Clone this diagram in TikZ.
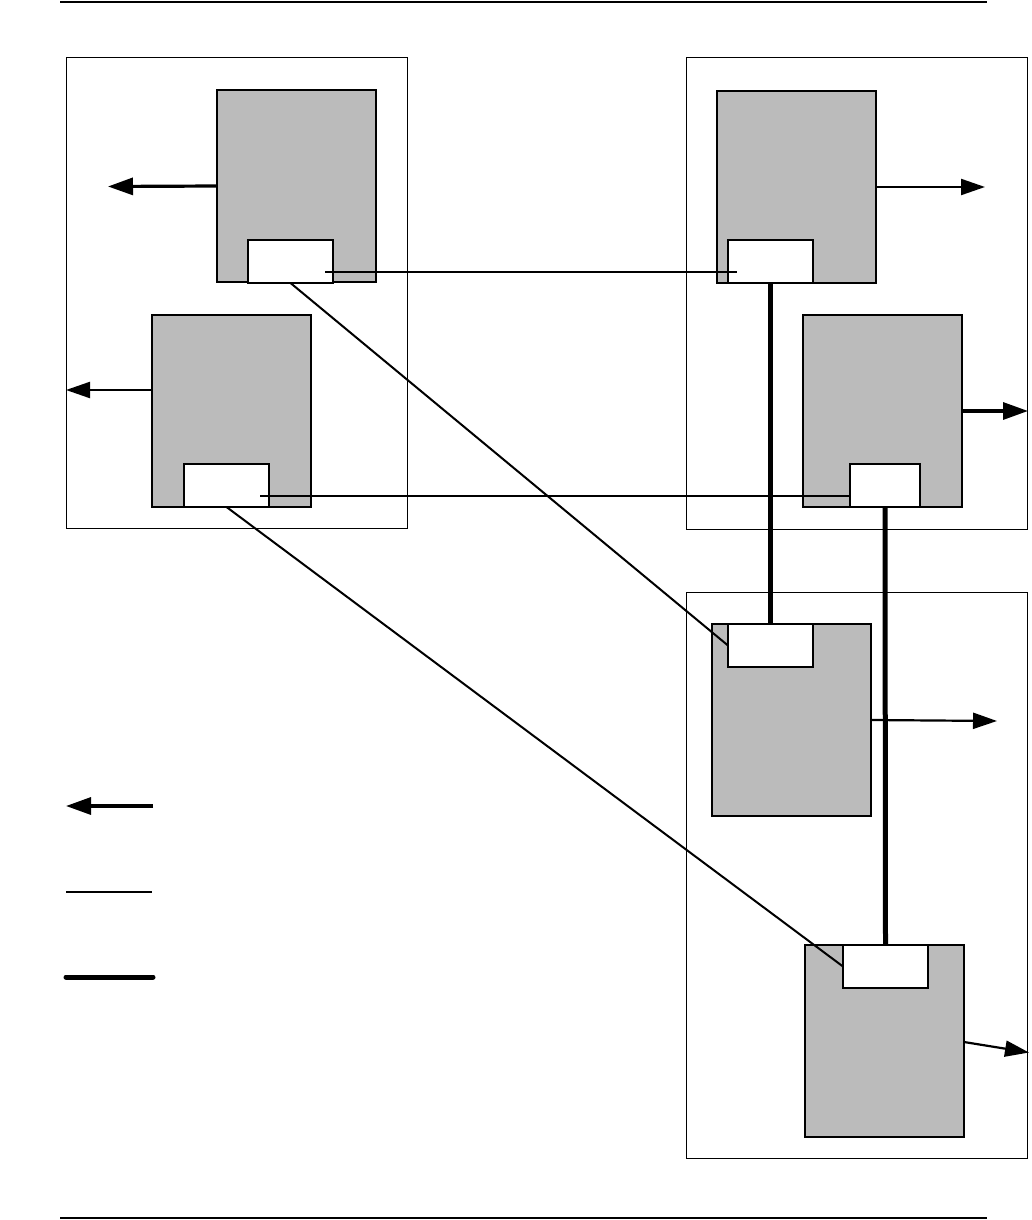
\documentclass[tikz,border=0pt]{standalone}
\usetikzlibrary{arrows.meta,calc}
\definecolor{boxgray}{HTML}{BBBBBB}
\tikzset{
  outerbox/.style={draw=black,line width=1.2pt,fill=none},
  gbox/.style={draw=black,line width=1.4pt,fill=boxgray,anchor=north west,inner sep=0pt,outer sep=0pt,minimum width=159pt,minimum height=192pt},
  wbox/.style={draw=black,line width=1.4pt,fill=white,anchor=north west,inner sep=0pt,outer sep=0pt,minimum width=85pt,minimum height=43pt},
  thinlink/.style={draw=black,line width=2pt},
  thicklink/.style={draw=black,line width=5pt},
  bigarrow/.style={draw=black,line width=3.2pt,-{Triangle[length=25pt,width=17pt]}},
  smallarrow/.style={draw=black,line width=2.2pt,-{Triangle[length=24pt,width=16pt]}},
  rule/.style={draw=black,line width=2.2pt}
}
\begin{document}
\begin{tikzpicture}[x=1pt,y=-1pt]
\useasboundingbox (0,0) rectangle (1031,1220);
% page rules
\coordinate (t1) at (60,2); \coordinate (t2) at (987,2);
\coordinate (b1) at (60,1218); \coordinate (b2) at (987,1218);
\draw[rule] (t1) -- (t2);
\draw[rule] (b1) -- (b2);
% outer boxes
\node[outerbox,anchor=north west,inner sep=0pt,minimum width=341pt,minimum height=471pt] (OL) at (66,57) {};
\node[outerbox,anchor=north west,inner sep=0pt,minimum width=341pt,minimum height=472pt] (OR) at (686,57) {};
\node[outerbox,anchor=north west,inner sep=0pt,minimum width=341pt,minimum height=566pt] (OB) at (686,592) {};
% gray boxes
\node[gbox] (A) at (217,90) {};
\node[gbox] (B) at (152,315) {};
\node[gbox] (C) at (717,91) {};
\node[gbox] (D) at (803,315) {};
\node[gbox] (E) at (712,624) {};
\node[gbox] (F) at (805,945) {};
% white boxes
\node[wbox] (wA) at (248,240) {};
\node[wbox] (wB) at (184,464) {};
\node[wbox] (wC) at (728,240) {};
\node[wbox,minimum width=70pt] (wD) at (850,464) {};
\node[wbox] (wE) at (728,624) {};
\node[wbox] (wF) at (843,945) {};
% arrow ends
\coordinate (aA) at (108,186.5);
\coordinate (bB) at ($(B.north west)+(0,75)$);
\coordinate (aB) at (66,390);
\coordinate (aC) at (985,187);
\coordinate (aD) at (1028,411);
\coordinate (aE) at (997,721);
\coordinate (aF) at (1029,1052.5);
\draw[bigarrow] (A.west) -- (aA);
\draw[smallarrow] (bB) -- (aB);
\draw[smallarrow] (C.east) -- (aC);
\draw[bigarrow] (D.east) -- (aD);
\draw[smallarrow] (E.east) -- (aE);
\draw[smallarrow] ($(F.east)+(0,1)$) -- (aF);
% thin links
\coordinate (l1a) at (325,272); \coordinate (l1b) at (737,272);
\coordinate (l2a) at (260,496); \coordinate (l2b) at (850,496);
\draw[thinlink] (l1a) -- (l1b);
\draw[thinlink] (l2a) -- (l2b);
\draw[thinlink] (wA.south) -- (wE.west);
\draw[thinlink] (wB.south) -- (wF.west);
% thick links
\draw[thicklink] (wC.south) -- (wE.north);
\draw[thicklink] (wD.south) -- (wF.north);
% legend
\coordinate (g1a) at (153,806); \coordinate (g1b) at (66,806);
\coordinate (g2a) at (66,892); \coordinate (g2b) at (152,892);
\coordinate (g3a) at (66,977); \coordinate (g3b) at (153,977);
\draw[bigarrow] (g1a) -- (g1b);
\draw[draw=black,line width=2.4pt] (g2a) -- (g2b);
\draw[draw=black,line width=5pt,line cap=round] (g3a) -- (g3b);
\end{tikzpicture}
\end{document}
